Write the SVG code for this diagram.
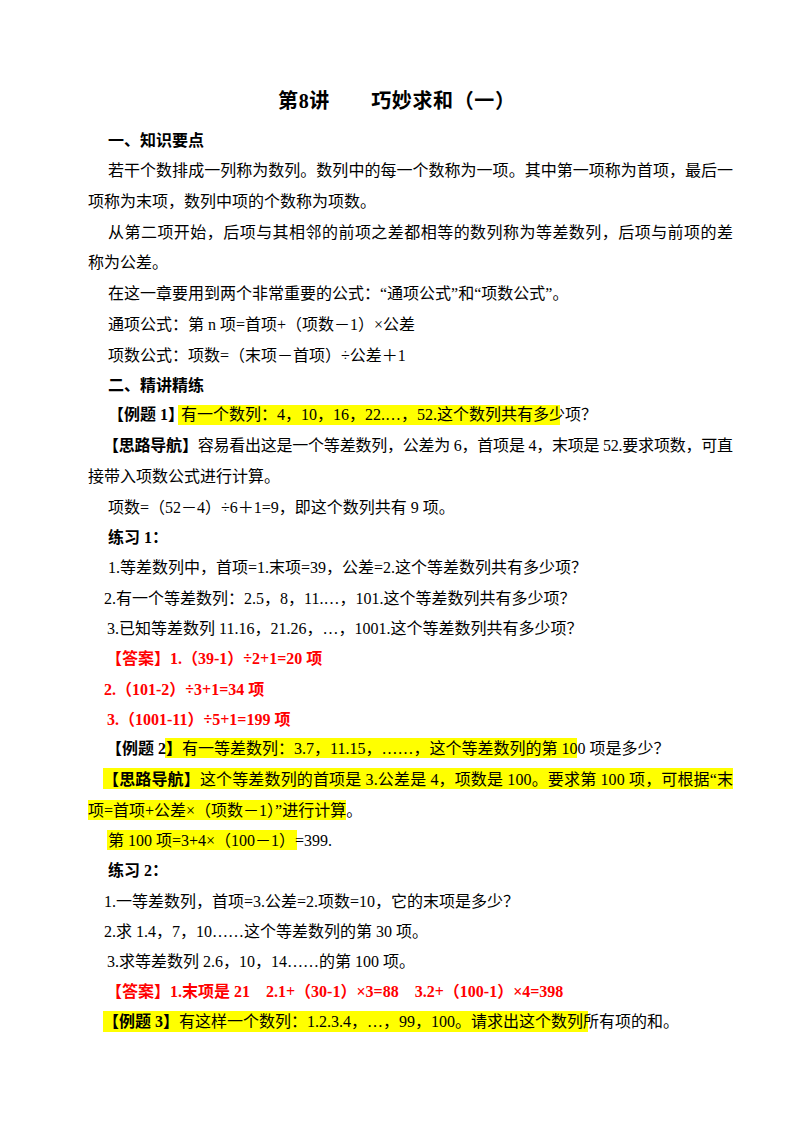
<svg xmlns="http://www.w3.org/2000/svg" width="800" height="1132" viewBox="0 0 800 1132">
<style>
text{font-family:"Liberation Serif","Noto Sans CJK SC",serif;font-size:16px;fill:#000}
.b{font-weight:bold}
.r{fill:#ff0000;font-weight:bold}
.h{fill:#ffff00}
</style>
<rect width="800" height="1132" fill="#fff"/>
<g id="highlights">
<rect class="h" x="178" y="405" width="382" height="20"/>
<rect class="h" x="165" y="738" width="412" height="20"/>
<rect class="h" x="103" y="768" width="630" height="21"/>
<rect class="h" x="88" y="800" width="258" height="20"/>
<rect class="h" x="107" y="830" width="190" height="20"/>
<rect class="h" x="103" y="1011" width="485" height="21"/>
</g>
<g id="text">
<text class="b" x="278" y="108" style="font-size:20px" textLength="237">第8讲　　巧妙求和（一）</text>
<text class="b" x="108" y="146">一、知识要点</text>
<text x="108" y="176" textLength="625">若干个数排成一列称为数列。数列中的每一个数称为一项。其中第一项称为首项，最后一</text>
<text x="88" y="207">项称为末项，数列中项的个数称为项数。</text>
<text x="108" y="238" textLength="625">从第二项开始，后项与其相邻的前项之差都相等的数列称为等差数列，后项与前项的差</text>
<text x="88" y="268">称为公差。</text>
<text x="108" y="299">在这一章要用到两个非常重要的公式：“通项公式”和“项数公式”。</text>
<text x="108" y="330">通项公式：第 n 项=首项+（项数－1）×公差</text>
<text x="108" y="361">项数公式：项数=（末项－首项）÷公差＋1</text>
<text class="b" x="108" y="391">二、精讲精练</text>
<text class="b" x="108" y="420">【例题 1】</text>
<text x="181" y="420">有一个数列：4，10，16，22.…，52.这个数列共有多少项？</text>
<text x="103" y="451" textLength="630"><tspan class="b">【思路导航】</tspan>容易看出这是一个等差数列，公差为 6，首项是 4，末项是 52.要求项数，可直</text>
<text x="88" y="482">接带入项数公式进行计算。</text>
<text x="108" y="513">项数=（52－4）÷6＋1=9，即这个数列共有 9 项。</text>
<text class="b" x="108" y="543">练习 1：</text>
<text x="108" y="573">1.等差数列中，首项=1.末项=39，公差=2.这个等差数列共有多少项？</text>
<text x="104" y="604">2.有一个等差数列：2.5，8，11.…，101.这个等差数列共有多少项？</text>
<text x="107" y="634">3.已知等差数列 11.16，21.26，…，1001.这个等差数列共有多少项？</text>
<text class="r" x="106" y="664">【答案】1.（39-1）÷2+1=20 项</text>
<text class="r" x="104" y="695">2.（101-2）÷3+1=34 项</text>
<text class="r" x="107" y="725">3.（1001-11）÷5+1=199 项</text>
<text x="106" y="754"><tspan class="b">【例题 2】</tspan>有一等差数列：3.7，11.15，……，这个等差数列的第 100 项是多少？</text>
<text x="103" y="785" textLength="630"><tspan class="b">【思路导航】</tspan>这个等差数列的首项是 3.公差是 4，项数是 100。要求第 100 项，可根据“末</text>
<text x="88" y="816">项=首项+公差×（项数－1）”进行计算。</text>
<text x="108" y="846">第 100 项=3+4×（100－1）=399.</text>
<text class="b" x="108" y="876">练习 2：</text>
<text x="104" y="907">1.一等差数列，首项=3.公差=2.项数=10，它的末项是多少？</text>
<text x="104" y="937">2.求 1.4，7，10……这个等差数列的第 30 项。</text>
<text x="107" y="967">3.求等差数列 2.6，10，14……的第 100 项。</text>
<text class="r" x="106" y="997">【答案】1.末项是 21　2.1+（30-1）×3=88　3.2+（100-1）×4=398</text>
<text x="103" y="1027"><tspan class="b">【例题 3】</tspan>有这样一个数列：1.2.3.4，…，99，100。请求出这个数列所有项的和。</text>
</g>
</svg>
